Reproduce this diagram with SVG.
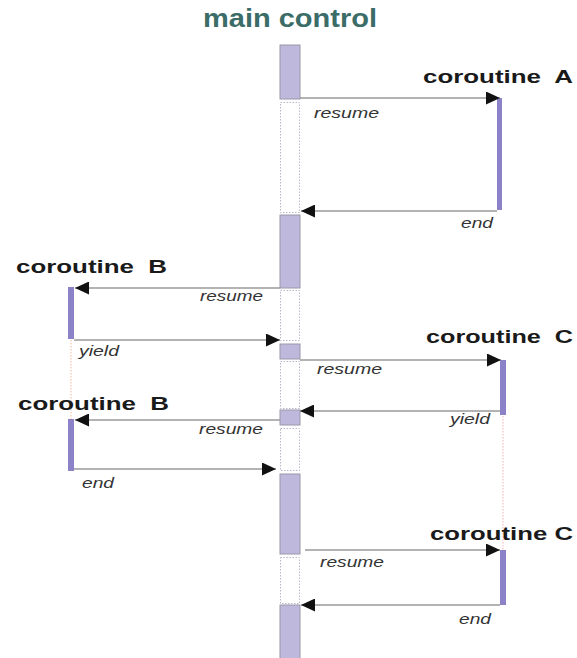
<svg xmlns="http://www.w3.org/2000/svg" width="577" height="658" viewBox="0 0 577 658">
<defs>
<style>
.title{font-family:"Liberation Sans",Arial,sans-serif;font-weight:bold;font-size:25px;fill:#3b6c67}
.co{font-family:"Liberation Sans",Arial,sans-serif;font-weight:bold;font-size:19px;fill:#1a1a1a}
.lbl{font-family:"Liberation Sans",Arial,sans-serif;font-style:italic;font-size:15.5px;fill:#333}
.bar{fill:#bdb8dc;stroke:#9a97a8;stroke-width:1}
.gap{fill:none;stroke:#b9b6cc;stroke-width:1;stroke-dasharray:1.5,1.5}
.cb{fill:#8c82c8}
.msg{stroke:#9a9a9a;stroke-width:1.3;fill:none;marker-end:url(#ah)}
</style>
<marker id="ah" markerUnits="userSpaceOnUse" markerWidth="15" markerHeight="13" refX="14" refY="6.5" orient="auto">
<path d="M0,0 L14,6.5 L0,13 z" fill="#111"/>
</marker>
</defs>
<rect width="577" height="658" fill="#fff"/>
<g id="main-control">
<text class="title" x="203" y="27" textLength="174" lengthAdjust="spacingAndGlyphs">main control</text>
<rect class="bar" x="280" y="45" width="20" height="54"/>
<rect class="gap" x="280.5" y="102.5" width="19" height="110"/>
<rect class="bar" x="280" y="215" width="20" height="73"/>
<rect class="gap" x="280.5" y="290.5" width="19" height="50"/>
<rect class="bar" x="280" y="344" width="20" height="15"/>
<rect class="gap" x="280.5" y="361.5" width="19" height="47"/>
<rect class="bar" x="280" y="410" width="20" height="15"/>
<rect class="gap" x="280.5" y="428.5" width="19" height="42"/>
<rect class="bar" x="280" y="474" width="20" height="80"/>
<rect class="gap" x="280.5" y="557.5" width="19" height="46"/>
<rect class="bar" x="280" y="605" width="20" height="60"/>
</g>
<g id="coroutine-A">
<text class="co" x="423" y="83" textLength="150" lengthAdjust="spacingAndGlyphs" xml:space="preserve">coroutine  A</text>
<rect class="cb" x="497" y="98" width="5" height="112"/>
</g>
<g id="coroutine-B1">
<text class="co" x="16" y="273" textLength="151" lengthAdjust="spacingAndGlyphs" xml:space="preserve">coroutine  B</text>
<rect class="cb" x="68" y="287" width="6" height="52"/>
<line x1="71" y1="340" x2="71" y2="419" stroke="#f4b89a" stroke-width="1" stroke-dasharray="1.5,1.5"/>
</g>
<g id="coroutine-B2">
<text class="co" x="18" y="410" textLength="151" lengthAdjust="spacingAndGlyphs" xml:space="preserve">coroutine  B</text>
<rect class="cb" x="68" y="419" width="6" height="52"/>
</g>
<g id="coroutine-C1">
<text class="co" x="426" y="343" textLength="147" lengthAdjust="spacingAndGlyphs" xml:space="preserve">coroutine  C</text>
<rect class="cb" x="500" y="360" width="6" height="55"/>
<line x1="503" y1="416" x2="503" y2="550" stroke="#f4b0b8" stroke-width="1" stroke-dasharray="1.5,1.5"/>
</g>
<g id="coroutine-C2">
<text class="co" x="430" y="540" textLength="143" lengthAdjust="spacingAndGlyphs">coroutine C</text>
<rect class="cb" x="500" y="550" width="6" height="55"/>
</g>
<g id="connectors">
<line class="msg" x1="300" y1="98" x2="500" y2="98"/>
<line class="msg" x1="497" y1="211" x2="301" y2="211"/>
<line class="msg" x1="280" y1="288" x2="75" y2="288"/>
<line class="msg" x1="74" y1="340" x2="280" y2="340"/>
<line class="msg" x1="300" y1="360" x2="501" y2="360"/>
<line class="msg" x1="500" y1="411" x2="300" y2="411"/>
<line class="msg" x1="280" y1="420" x2="75" y2="420"/>
<line class="msg" x1="74" y1="469" x2="276" y2="469"/>
<line class="msg" x1="305" y1="550" x2="500" y2="550"/>
<line class="msg" x1="500" y1="605" x2="301" y2="605"/>
<text class="lbl" x="314" y="118" textLength="65" lengthAdjust="spacingAndGlyphs">resume</text>
<text class="lbl" x="461" y="228" textLength="32" lengthAdjust="spacingAndGlyphs">end</text>
<text class="lbl" x="200" y="301" textLength="63" lengthAdjust="spacingAndGlyphs">resume</text>
<text class="lbl" x="79" y="356" textLength="40" lengthAdjust="spacingAndGlyphs">yield</text>
<text class="lbl" x="317" y="374" textLength="65" lengthAdjust="spacingAndGlyphs">resume</text>
<text class="lbl" x="450" y="424" textLength="40" lengthAdjust="spacingAndGlyphs">yield</text>
<text class="lbl" x="199" y="434" textLength="64" lengthAdjust="spacingAndGlyphs">resume</text>
<text class="lbl" x="82" y="488" textLength="32" lengthAdjust="spacingAndGlyphs">end</text>
<text class="lbl" x="320" y="567" textLength="64" lengthAdjust="spacingAndGlyphs">resume</text>
<text class="lbl" x="459" y="624" textLength="32" lengthAdjust="spacingAndGlyphs">end</text>
</g>
</svg>
